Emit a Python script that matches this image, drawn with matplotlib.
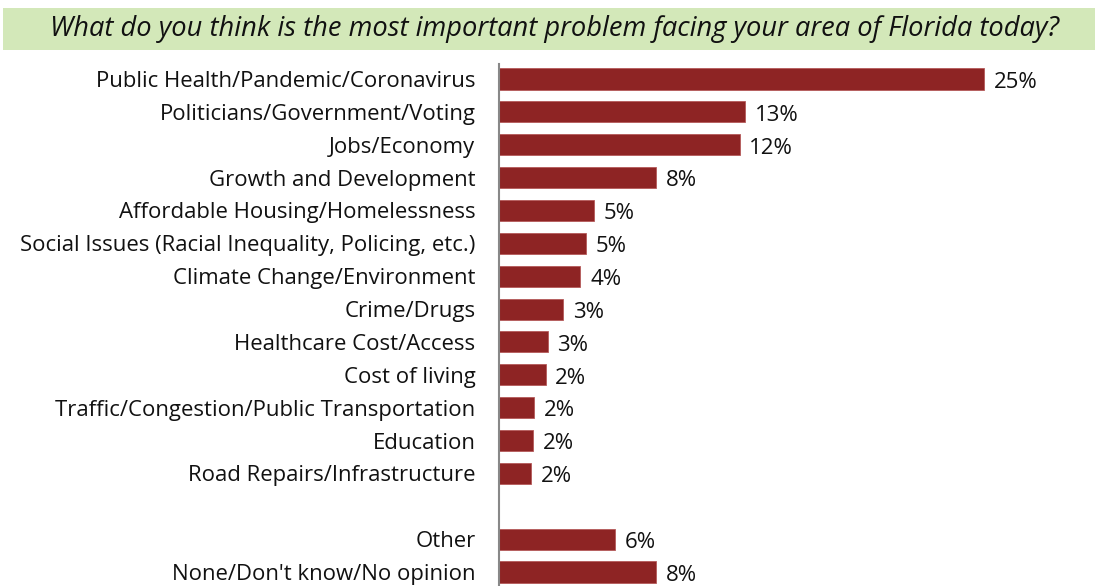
import numpy as np
import matplotlib.pyplot as plt
from matplotlib.patches import Rectangle

# Survey answers (top to bottom)
categories = [
    'Public Health/Pandemic/Coronavirus',
    'Politicians/Government/Voting',
    'Jobs/Economy',
    'Growth and Development',
    'Affordable Housing/Homelessness',
    'Social Issues (Racial Inequality, Policing, etc.)',
    'Climate Change/Environment',
    'Crime/Drugs',
    'Healthcare Cost/Access',
    'Cost of living',
    'Traffic/Congestion/Public Transportation',
    'Education',
    'Road Repairs/Infrastructure',
]
values = [25.0, 12.7, 12.4, 8.1, 4.9, 4.5, 4.2, 3.3, 2.5, 2.4, 1.8, 1.75, 1.65]
value_labels = ['25%', '13%', '12%', '8%', '5%', '5%', '4%', '3%', '3%', '2%', '2%', '2%', '2%']

# Separate group below a gap
extra_categories = ['Other', "None/Don't know/No opinion"]
extra_values = [6.0, 8.1]
extra_labels = ['6%', '8%']

title = 'What do you think is the most important problem facing your area of Florida today?'

bar_color = '#8E2424'
font = 'Open Sans'

fig = plt.figure(figsize=(10.95, 5.86), dpi=100)

# Title banner
fig.patches.append(Rectangle((3 / 1095, 1 - 50 / 586), 1092 / 1095, 42 / 586,
                             transform=fig.transFigure, facecolor='#D3E8B9',
                             edgecolor='none', zorder=0))
fig.text(554 / 1095, 1 - 29 / 586, title, ha='center', va='center',
         fontsize=19.6, style='italic', family=font, color='#111111')

ax = fig.add_axes([499 / 1095, 0, 1 - 499 / 1095, 1 - 64 / 586])

all_cats = categories + [''] + extra_categories
all_vals = values + [np.nan] + extra_values
all_labels = value_labels + [''] + extra_labels
ypos = np.arange(len(all_cats))

ax.barh(ypos, all_vals, height=0.64, color=bar_color, edgecolor='#B55A5A', linewidth=0.6)
for y, v, lab in zip(ypos, all_vals, all_labels):
    if lab:
        ax.text(v + 0.5, y + 0.1, lab, va='center', ha='left', fontsize=16, family=font, color='#111111')

ax.set_yticks(ypos)
ax.set_yticklabels(all_cats, fontsize=15.9, family=font, color='#111111')
ax.tick_params(axis='y', length=0, pad=17)
ax.set_xticks([])
ax.set_xlim(0, (1095 - 499) / ((985 - 500) / 25.0))
ax.set_ylim(len(all_cats) - 1 + 14 / 32.87, -15 / 32.87)

for side in ['top', 'right', 'bottom']:
    ax.spines[side].set_visible(False)
ax.spines['left'].set_color('#888888')
ax.spines['left'].set_linewidth(1.5)

fig.savefig('out.png', dpi=100)
